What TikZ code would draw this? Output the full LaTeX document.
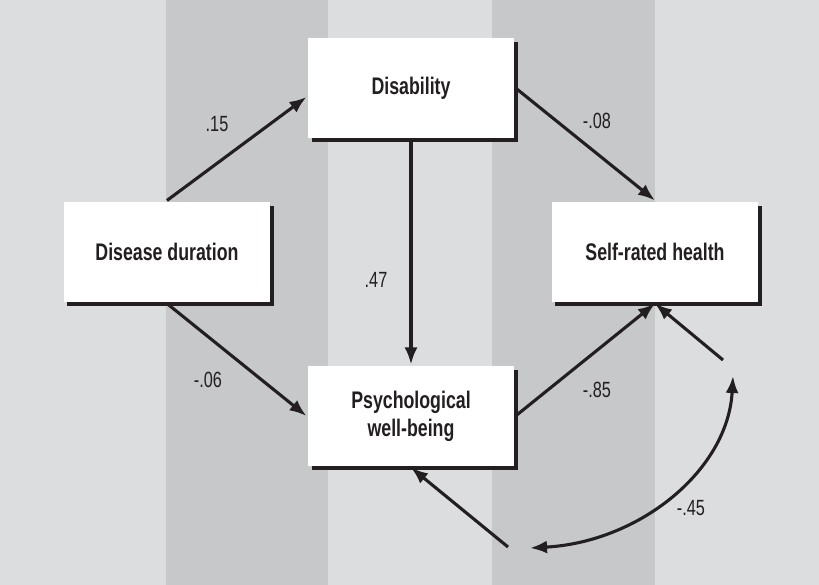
\documentclass[tikz,border=0pt]{standalone}
\usepackage{fontspec}
\setmainfont{Liberation Sans}[FakeStretch=0.74]
\usepackage{tikz}
\usetikzlibrary{arrows.meta,matrix,shadows}

\definecolor{ink}{HTML}{231F20}
\definecolor{stripelight}{HTML}{DCDDDF}
\definecolor{stripedark}{HTML}{C7C8CA}

\begin{document}
\begin{tikzpicture}[x=1pt,y=-1pt
  ,->,>={Latex[length=17pt,width=13pt]}
  ,line width=3.1pt
  ,every edge/.style={draw=ink}
  ,auto]
  \tikzstyle{box}=[draw=none,fill=white,text=ink,font=\fontsize{24}{28}\selectfont\bfseries
    ,minimum width=206pt,minimum height=100pt,align=center
    ,drop shadow={shadow xshift=3.5pt,shadow yshift=-3.5pt,fill=ink,opacity=1}]
  \tikzstyle{lbl}=[text=ink,font=\fontsize{22}{24}\selectfont,inner sep=0pt]

  % stripes behind everything
  \useasboundingbox (0,0) rectangle (819,585);
  \fill[stripelight] (0,0) rectangle (819,585);
  \fill[stripedark] (166,0) rectangle (328,585);
  \fill[stripedark] (492,0) rectangle (655,585);

  \matrix (m) [matrix of nodes
  ,row sep=64pt,column sep=38pt] at (411,252)
  {
    % top row
    &
    \node[box](dis) {Disability}; &
    \\
    % middle row
    \node[box](dd) {Disease duration}; &
    &
    \node[box](srh) {Self-rated health}; \\
    % bottom row
    &
    \node[box](pwb) {Psychological\\well-being}; &
    \\
  };

  % free ends of the error terms
  \coordinate (e1) at (723,360);
  \coordinate (e2) at (508,547);
  \coordinate (ea) at (530,548);
  \coordinate (eb) at (733,376);

  \path
  (dd.north) edge  node {} ([yshift=-9pt]dis.west)
  (dis.east) edge  node {} (srh.north)
  (dis.south) edge  node {} (pwb.north)
  (dd.south) edge  node {} (pwb.west)
  (pwb.east) edge  node {} (srh.south)
  (e1) edge  node {} (srh.south)
  (e2) edge  node {} (pwb.south);
  \draw[ink,<->] (ea) .. controls (640,542) and (728,470) .. (eb);

  % path coefficients
  \node[lbl] (c15) at (217,124) {.15};
  \node[lbl] (c08) at (597,121) {-.08};
  \node[lbl] (c47) at (376,280) {.47};
  \node[lbl] (c06) at (208,380) {-.06};
  \node[lbl] (c85) at (597,390) {-.85};
  \node[lbl] (c45) at (691,508) {-.45};
\end{tikzpicture}
\end{document}
